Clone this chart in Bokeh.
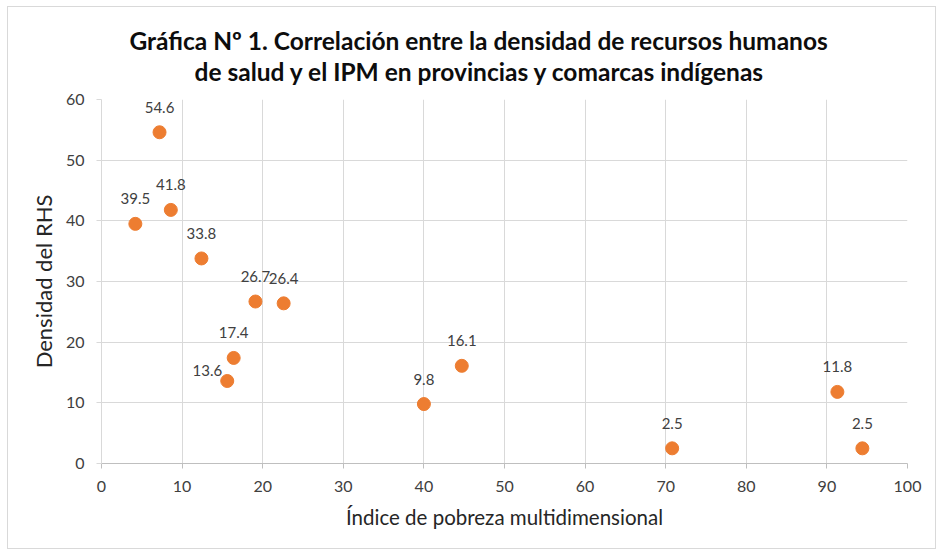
from bokeh.plotting import figure
from bokeh.models import ColumnDataSource, LabelSet, Title, FixedTicker, Range1d
from bokeh.core.properties import value
from bokeh.embed import file_html
from bokeh.resources import INLINE

# ---- data ----
ipm = [4.2, 7.2, 8.6, 12.4, 15.6, 16.4, 19.1, 22.6, 40.0, 44.7, 70.8, 91.3, 94.4]
rhs = [39.5, 54.6, 41.8, 33.8, 13.6, 17.4, 26.7, 26.4, 9.8, 16.1, 2.5, 11.8, 2.5]
point_labels = ["39.5", "54.6", "41.8", "33.8", "13.6", "17.4", "26.7", "26.4",
                "9.8", "16.1", "2.5", "11.8", "2.5"]
x_ticks = [0, 10, 20, 30, 40, 50, 60, 70, 80, 90, 100]
y_ticks = [0, 10, 20, 30, 40, 50, 60]
title_lines = ["Gráfica Nº 1. Correlación entre la densidad de recursos humanos",
               "de salud y el IPM en provincias y comarcas indígenas"]
x_title = "Índice de pobreza multidimensional"
y_title = "Densidad del RHS"

FONT = "Lato"
W, H = 929, 543
p = figure(width=W, height=H, output_backend="svg", toolbar_location=None,
           x_range=Range1d(0, 100), y_range=Range1d(0, 60),
           min_border_left=93, min_border_right=30,
           min_border_top=92, min_border_bottom=87)
p.styles = {"border": "1px solid #d9d9d9", "margin-left": "7px", "margin-top": "6px"}
p.outline_line_color = None
p.background_fill_color = "white"
p.border_fill_color = "white"

grid_c = "#d9d9d9"
p.xgrid.grid_line_color = grid_c
p.ygrid.grid_line_color = grid_c
p.xaxis.ticker = FixedTicker(ticks=x_ticks)
p.yaxis.ticker = FixedTicker(ticks=y_ticks)
for ax, lc in ((p.xaxis[0], "#bfbfbf"), (p.yaxis[0], grid_c)):
    ax.axis_line_color = lc
    ax.major_tick_line_color = lc
    ax.major_tick_out = 5
    ax.major_tick_in = 0
    ax.minor_tick_line_color = None
    ax.major_label_text_font = FONT
    ax.major_label_text_font_size = "16px"
    ax.major_label_text_color = "#404040"
    ax.axis_label_text_font = FONT
    ax.axis_label_text_font_style = "normal"
    ax.axis_label_text_color = "#262626"
p.xaxis.axis_label_text_font_size = "20.5px"
p.yaxis.axis_label_text_font_size = "22px"
p.xaxis.axis_label = x_title
p.yaxis.axis_label = y_title
p.xaxis.major_label_standoff = 12
p.xaxis.axis_label_standoff = 10
p.yaxis.major_label_standoff = 12
p.yaxis.axis_label_standoff = 6

src = ColumnDataSource(dict(x=ipm, y=rhs, t=point_labels))
p.scatter("x", "y", source=src, size=13, fill_color="#ED7D31", line_color="#ED7D31")

left_idx = [4]
above = ColumnDataSource(dict(
    x=[v for i, v in enumerate(ipm) if i not in left_idx],
    y=[v for i, v in enumerate(rhs) if i not in left_idx],
    t=[v for i, v in enumerate(point_labels) if i not in left_idx]))
left = ColumnDataSource(dict(
    x=[ipm[i] for i in left_idx], y=[rhs[i] for i in left_idx],
    t=[point_labels[i] for i in left_idx]))
p.add_layout(LabelSet(x="x", y="y", text="t", source=above, y_offset=25,
                      text_align="center", text_baseline="middle",
                      text_font=value(FONT), text_font_size=value("15px"),
                      text_color="#404040"))
p.add_layout(LabelSet(x="x", y="y", text="t", source=left, x_offset=-5, y_offset=10,
                      text_align="right", text_baseline="middle",
                      text_font=value(FONT), text_font_size=value("15px"),
                      text_color="#404040"))

# spacer between the frame and the title lines (added first = closest to plot)
p.add_layout(Title(text=" ", text_font_size="1px", standoff=11), "above")
# title lines: last added is furthest from the plot
for txt, off in zip(reversed(title_lines), [93, 28]):
    p.add_layout(Title(text=txt, align="left", offset=off, text_font=FONT,
                       text_font_style="bold", text_font_size="24.5px",
                       text_color="#0d0d0d", standoff=0), "above")

open("out.html", "w").write(file_html(p, INLINE))
